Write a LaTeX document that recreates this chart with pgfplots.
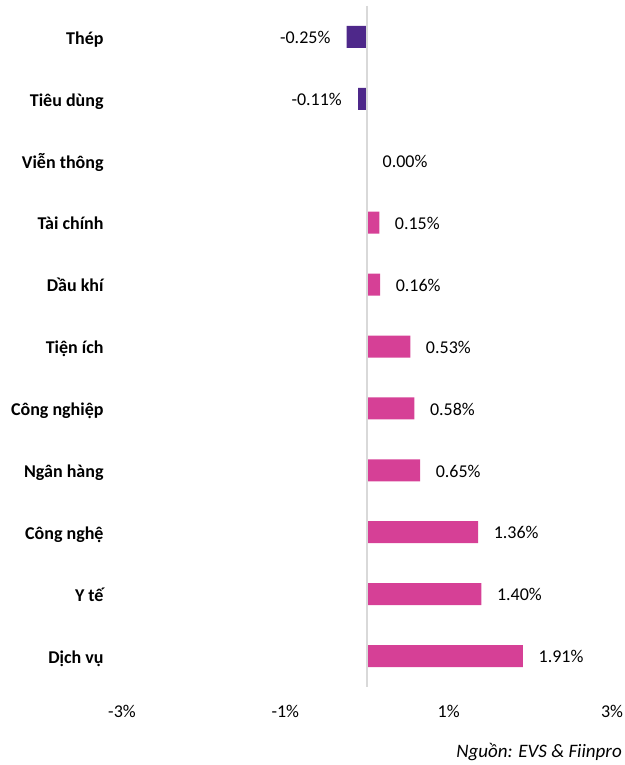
\documentclass[border=0pt]{standalone}
\usepackage{fontspec}
\setmainfont{Carlito}
\usepackage{pgfplots}
\pgfplotsset{compat=1.18}
\definecolor{negc}{RGB}{78,40,138}
\definecolor{posc}{RGB}{214,64,150}
\definecolor{zeroline}{RGB}{217,217,217}
\begin{document}
\fontsize{18}{22}\selectfont
\begin{tikzpicture}[x=1pt,y=1pt]
\useasboundingbox (0,0) rectangle (624,765);
\begin{axis}[
  at={(122pt,78pt)}, anchor=south west,
  scale only axis, width=490pt, height=681pt,
  xbar, bar width=22pt, bar shift=0pt,
  xmin=-3, xmax=3, ymin=-0.5, ymax=10.5,
  y dir=reverse,
  axis line style={draw=none},
  ytick={0,1,2,3,4,5,6,7,8,9,10},
  yticklabels={Thép,Tiêu dùng,Viễn thông,Tài chính,Dầu khí,Tiện ích,Công nghiệp,Ngân hàng,Công nghệ,Y tế,Dịch vụ},
  yticklabel style={font=\fontsize{18}{22}\selectfont\bfseries, anchor=east, inner sep=0pt, xshift=-14pt, text height=0.88em, text depth=0.07em},
  xtick={-3,-1,1,3},
  xticklabels={-3\%,-1\%,1\%,3\%},
  xticklabel style={font=\fontsize{18}{22}\selectfont, anchor=center, inner sep=0pt, yshift=-24pt},
  tick style={draw=none},
  /pgf/number format/assume math mode=true,
  nodes near coords={\pgfmathprintnumber[fixed,zerofill,precision=2,assume math mode=true]{\pgfplotspointmeta}\%},
  nodes near coords style={font=\fontsize{18}{22}\selectfont, text=black, inner sep=0pt, text height=0.85em, text depth=0.1em},
  clip=false,
]
\addplot[draw=none, fill=negc, nodes near coords style={anchor=east, xshift=-16pt}]
  coordinates {(-0.25,0) (-0.11,1)};
\addplot[draw=none, fill=posc, nodes near coords style={anchor=west, xshift=15.5pt}]
  coordinates {(0.00,2) (0.15,3) (0.16,4) (0.53,5) (0.58,6) (0.65,7) (1.36,8) (1.40,9) (1.91,10)};
\draw[zeroline, line width=2pt] (axis cs:0,-0.5) -- (axis cs:0,10.5);
\end{axis}
\node[anchor=base east, inner sep=0pt, font=\fontsize{19}{22}\selectfont\itshape] at (622pt,7pt) {Nguồn: EVS \& Fiinpro};
\end{tikzpicture}
\end{document}
